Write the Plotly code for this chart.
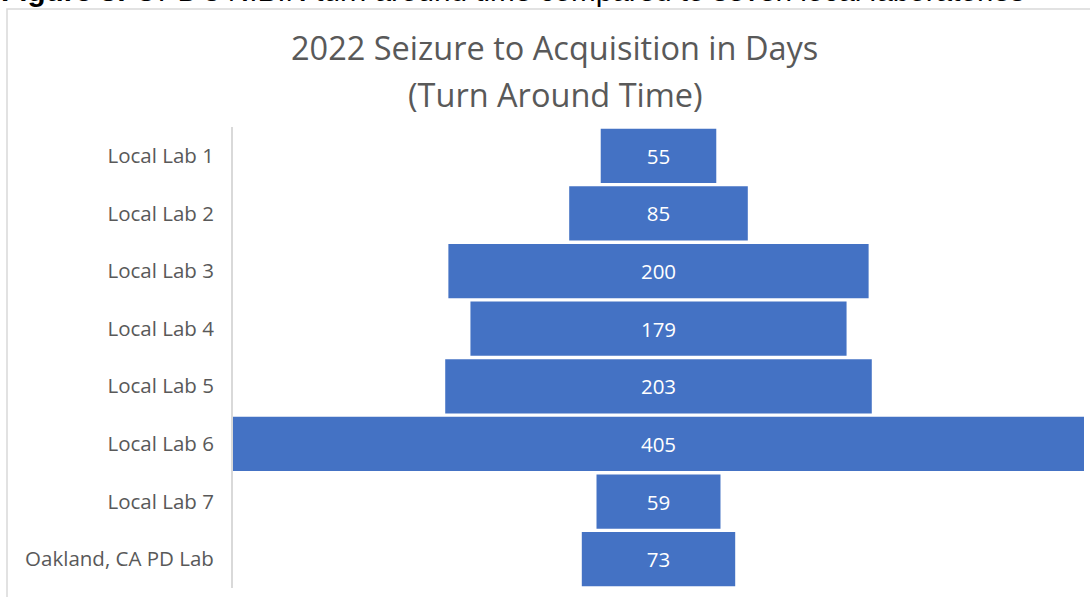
import plotly.graph_objects as go

labs = ["Local Lab 1", "Local Lab 2", "Local Lab 3", "Local Lab 4",
        "Local Lab 5", "Local Lab 6", "Local Lab 7", "Oakland, CA PD Lab"]
days = [55, 85, 200, 179, 203, 405, 59, 73]

title_line1 = "2022 Seizure to Acquisition in Days"
title_line2 = "(Turn Around Time)"
caption = "<b>Figure 3:</b> OPD's NIBIN turn around time compared to seven local laboratories"

W, H = 1090, 597
L, R, T, B = 233, 6, 127, 9
pw = W - L - R
ph = H - T - B


def px_x(x):
    return (x - L) / pw


def px_y(y):
    return (H - B - y) / ph


fig = go.Figure(go.Funnel(
    y=labs, x=days,
    textinfo="value", textposition="inside",
    textfont=dict(color="white", size=20.5, family="Open Sans"),
    marker=dict(color="#4472C4", line=dict(color="#4472C4", width=0)),
    connector=dict(visible=False),
    hoverinfo="y+x",
))

fig.update_layout(
    width=W, height=H,
    margin=dict(l=L, r=R, t=T, b=B),
    paper_bgcolor="white", plot_bgcolor="white",
    funnelgap=0.06,
    showlegend=False,
    xaxis=dict(visible=False, range=[-405 / 2, 405 / 2]),
    yaxis=dict(showline=True, linecolor="#d9d9d9", linewidth=2,
               ticks="", ticklabelstandoff=13,
               tickfont=dict(size=20.5, color="#595959", family="Open Sans")),
    shapes=[dict(type="rect", xref="paper", yref="paper",
                 x0=px_x(7), x1=px_x(W + 20),
                 y0=px_y(H + 20), y1=px_y(9),
                 line=dict(color="#d9d9d9", width=1.5), layer="below")],
    annotations=[
        dict(text=title_line1, xref="paper", yref="paper",
             x=px_x(554), y=px_y(48), xanchor="center", yanchor="middle",
             showarrow=False,
             font=dict(size=32.5, color="#595959", family="Open Sans")),
        dict(text=title_line2, xref="paper", yref="paper",
             x=px_x(555), y=px_y(95), xanchor="center", yanchor="middle",
             showarrow=False,
             font=dict(size=32.5, color="#595959", family="Open Sans")),
        dict(text=caption, xref="paper", yref="paper",
             x=px_x(-1), y=px_y(9), xanchor="left", yanchor="bottom",
             showarrow=False, align="left",
             font=dict(size=29.7, color="black", family="Liberation Sans")),
    ],
)

fig.write_html("out.html", config={"displayModeBar": False},
               post_script="document.body.style.margin='0';")
